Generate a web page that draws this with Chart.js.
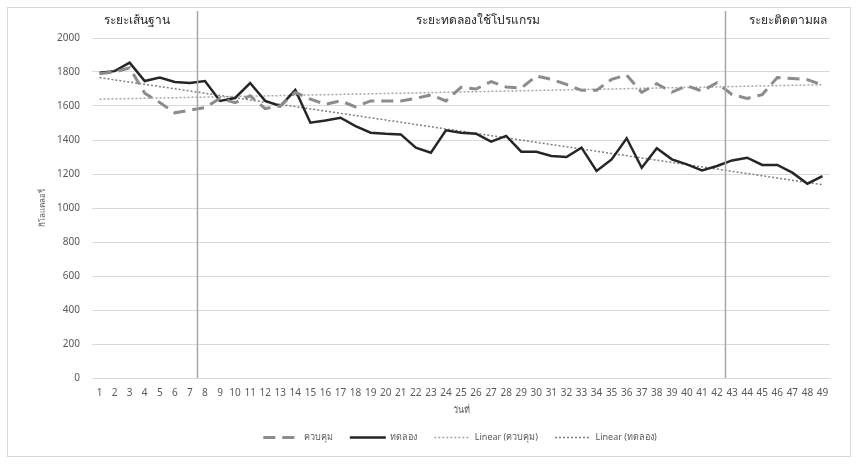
<!DOCTYPE html>
<html>
<head>
<meta charset="utf-8">
<script src="https://cdn.jsdelivr.net/npm/chart.js@4.4.1/dist/chart.umd.min.js"></script>
<style>
  body { margin: 0; background: #fff; }
  #box {
    position: absolute; left: 7px; top: 7px;
    width: 842px; height: 448px;
    border: 1px solid #d9d9d9;
  }
</style>
</head>
<body>
<div id="box"><canvas id="chart" width="842" height="448"></canvas></div>
<script>
  // days 1..49
  const days = ["1","2","3","4","5","6","7","8","9","10","11","12","13","14","15","16","17","18","19","20",
    "21","22","23","24","25","26","27","28","29","30","31","32","33","34","35","36","37","38","39","40",
    "41","42","43","44","45","46","47","48","49"];

  // ควบคุม (control group)
  const control = [1790, 1800, 1825, 1675, 1620, 1560, 1575, 1590, 1645, 1620, 1660, 1585, 1600, 1680, 1640, 1610,
    1630, 1595, 1630, 1630, 1630, 1645, 1665, 1630, 1710, 1700, 1743, 1712, 1705, 1776, 1757, 1727, 1692, 1692,
    1757, 1782, 1680, 1731, 1682, 1718, 1688, 1737, 1667, 1645, 1667, 1767, 1762, 1755, 1723];

  // ทดลอง (experimental group)
  const experiment = [1795, 1805, 1855, 1747, 1767, 1741, 1735, 1747, 1630, 1647, 1735, 1630, 1600, 1694, 1502, 1515,
    1531, 1482, 1443, 1437, 1433, 1355, 1325, 1457, 1443, 1437, 1390, 1424, 1331, 1331, 1306, 1300, 1355, 1218,
    1286, 1410, 1237, 1351, 1286, 1257, 1221, 1247, 1280, 1296, 1253, 1253, 1208, 1143, 1188];

  // trendline ends (day 1, day 49)
  const controlTrend = [1640, 1725];
  const experimentTrend = [1767, 1137];

  const yTicks = [0, 200, 400, 600, 800, 1000, 1200, 1400, 1600, 1800, 2000];

  const phases = ["ระยะเส้นฐาน", "ระยะทดลองใช้โปรแกรม", "ระยะติดตามผล"];

  function trendData(ends) {
    const arr = days.map(() => null);
    arr[0] = ends[0];
    arr[days.length - 1] = ends[1];
    return arr;
  }

  const thaiFont = "'Noto Sans', 'DejaVu Sans', sans-serif";

  // vertical phase separators + phase titles
  const phasePlugin = {
    id: "phases",
    afterLayout(chart) {
      // legend sits centred under the plot, not the whole canvas
      chart.legend.left += 28;
      chart.legend.right += 28;
    },
    afterDatasetsDraw(chart) {
      const ctx = chart.ctx;
      const x = chart.scales.x;
      const area = chart.chartArea;
      ctx.save();
      ctx.strokeStyle = "#a6a6a6";
      ctx.lineWidth = 1.5;
      [6.5, 41.5].forEach((v) => {
        const px = Math.round(x.getPixelForValue(v)) + 0.5;
        ctx.beginPath();
        ctx.moveTo(px, 3);
        ctx.lineTo(px, area.bottom);
        ctx.stroke();
      });
      ctx.fillStyle = "#262626";
      ctx.font = "12px " + thaiFont;
      ctx.textAlign = "center";
      ctx.textBaseline = "middle";
      [2.5, 25.1, 45.7].forEach((v, i) => {
        ctx.fillText(phases[i], x.getPixelForValue(v), 13);
      });
      ctx.restore();
    },
  };

  const ctx = document.getElementById("chart").getContext("2d");
  new Chart(ctx, {
    type: "line",
    data: {
      labels: days,
      datasets: [
        {
          label: "ควบคุม",
          data: control,
          borderColor: "#8c8c8c",
          borderWidth: 3,
          borderDash: [12, 7],
          pointRadius: 0,
          pointStyle: "line",
          tension: 0,
        },
        {
          label: "ทดลอง",
          data: experiment,
          borderColor: "#262626",
          borderWidth: 2.5,
          pointRadius: 0,
          pointStyle: "line",
          tension: 0,
        },
        {
          label: "Linear (ควบคุม)",
          data: trendData(controlTrend),
          borderColor: "#a6a6a6",
          borderWidth: 1.5,
          borderDash: [2, 2],
          pointRadius: 0,
          pointStyle: "line",
          spanGaps: true,
        },
        {
          label: "Linear (ทดลอง)",
          data: trendData(experimentTrend),
          borderColor: "#7f7f7f",
          borderWidth: 1.5,
          borderDash: [2, 2],
          pointRadius: 0,
          pointStyle: "line",
          spanGaps: true,
        },
      ],
    },
    options: {
      responsive: false,
      animation: false,
      layout: { padding: { top: 30, right: 20, left: 26, bottom: 4 } },
      plugins: {
        tooltip: { enabled: false },
        legend: {
          position: "bottom",
          labels: {
            usePointStyle: true,
            pointStyleWidth: 36,
            boxHeight: 8,
            padding: 17,
            color: "#595959",
            font: { family: thaiFont, size: 9 },
            generateLabels: (chart) => {
              const items = Chart.defaults.plugins.legend.labels.generateLabels(chart);
              items.forEach((item) => {
                const ds = chart.data.datasets[item.datasetIndex];
                item.lineDash = ds.borderDash || [];
                item.lineWidth = ds.borderWidth;
                item.strokeStyle = ds.borderColor;
              });
              return items;
            },
          },
        },
      },
      scales: {
        x: {
          offset: true,
          afterFit: (scale) => {
            scale.height = 38;
          },
          grid: { display: false, drawTicks: false, offset: false },
          border: { color: "#d9d9d9" },
          ticks: {
            autoSkip: false,
            maxRotation: 0,
            padding: 9,
            color: "#595959",
            font: { family: thaiFont, size: 10 },
          },
          title: {
            display: true,
            text: "วันที่",
            color: "#595959",
            font: { family: thaiFont, size: 9 },
            padding: { top: 2, bottom: 0 },
          },
        },
        y: {
          min: 0,
          max: 2000,
          afterBuildTicks: (scale) => {
            scale.ticks = yTicks.map((v) => ({ value: v }));
          },
          afterFit: (scale) => {
            scale.width = 58;
          },
          grid: { color: "#d9d9d9", drawTicks: false },
          border: { display: false },
          ticks: {
            padding: 12,
            color: "#595959",
            font: { family: thaiFont, size: 10 },
            callback: (v) => String(v),
          },
          title: {
            display: true,
            text: "กิโลแคลอรี่",
            color: "#595959",
            font: { family: thaiFont, size: 8 },
          },
        },
      },
    },
    plugins: [phasePlugin],
  });
</script>
</body>
</html>
